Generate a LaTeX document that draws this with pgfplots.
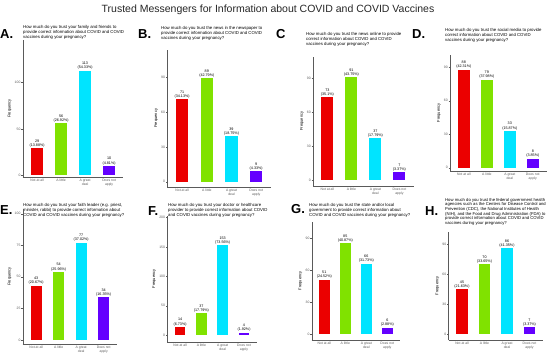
\documentclass[border=0pt]{standalone}
\usepackage{pgfplots}
\pgfplotsset{compat=1.18}
\usepackage{fontspec}
\setmainfont{Liberation Sans}
\definecolor{cR}{RGB}{235,0,0}
\definecolor{cG}{RGB}{128,226,0}
\definecolor{cC}{RGB}{0,228,255}
\definecolor{cV}{RGB}{100,0,255}
\definecolor{axc}{RGB}{90,90,90}
\pgfplotsset{
  panel/.style={
    scale only axis,
    axis x line*=bottom, axis y line*=left,
    axis line style={axc, line width=0.35pt},
    major tick style={axc, line width=0.3pt},
    major tick length=1.3pt, tick align=outside,
    xmin=-0.6, xmax=3.6,
    xtick={0,1,2,3},
    xticklabels={Not at all, A little, {A great\\deal}, {Does not\\apply}},
    xticklabel style={align=center, font=\fontsize{3.4}{3.8}\selectfont, text=axc, inner sep=0.8pt},
    yticklabel style={font=\fontsize{3.4}{3.8}\selectfont, text=axc, inner sep=0.8pt},
    /pgf/number format/assume math mode=true,
    ylabel={Frequency},
    ylabel style={font=\fontsize{4}{4.5}\selectfont, yshift=-1pt},
    ybar, bar width=0.5,
    every node near coord/.append style={align=center, font=\fontsize{3.7}{4.2}\selectfont, inner sep=0.8pt, text=black},
    clip=false,
  }
}
\newcommand{\bars}[8]{%
  \addplot[bar shift=0pt, fill=cR, draw=none, nodes near coords={#1\\(#2\%)}] coordinates {(0,#1)};
  \addplot[bar shift=0pt, fill=cG, draw=none, nodes near coords={#3\\(#4\%)}] coordinates {(1,#3)};
  \addplot[bar shift=0pt, fill=cC, draw=none, nodes near coords={#5\\(#6\%)}] coordinates {(2,#5)};
  \addplot[bar shift=0pt, fill=cV, draw=none, nodes near coords={#7\\(#8\%)}] coordinates {(3,#7)};
}
\newcommand{\qfont}{\fontsize{4.3}{4.9}\selectfont}
\newcommand{\lfont}{\fontsize{13}{13}\selectfont\bfseries}
\begin{document}
\begin{tikzpicture}[x=1pt,y=1pt]
\path[use as bounding box] (0pt,0pt) rectangle (550pt,-354pt);
\node[font=\fontsize{10.5}{12}\selectfont, text=black!85] at (268pt,-10pt) {Trusted Messengers for Information about COVID and COVID Vaccines};

% ---------- A
\node[anchor=base west, font=\lfont, inner sep=0] at (0pt,-38pt) {A.};
\node[anchor=north west, font=\qfont, align=left, inner sep=0] at (23pt,-25pt) {How much do you trust your family and friends to\\provide correct information about COVID and COVID\\vaccines during your pregnancy?};
\begin{axis}[panel, at={(22.7pt,-177pt)}, anchor=south west, width=100.8pt, height=137pt, ymin=-2, ymax=146, ytick={0,50,100}]
\bars{29}{13.88}{56}{26.92}{113}{54.33}{10}{4.81}
\end{axis}

% ---------- B
\node[anchor=base west, font=\lfont, inner sep=0] at (138pt,-38pt) {B.};
\node[anchor=north west, font=\qfont, align=left, inner sep=0] at (161pt,-26pt) {How much do you trust the news in the newspaper to\\provide correct information about COVID and COVID\\vaccines during your pregnancy?};
\begin{axis}[panel, at={(167.3pt,-186.7pt)}, anchor=south west, width=103.7pt, height=136.7pt, ymin=-4.3, ymax=113.4, ytick={0,30,60,90}]
\bars{71}{34.13}{89}{42.79}{39}{18.75}{9}{4.33}
\end{axis}

% ---------- C
\node[anchor=base west, font=\lfont, inner sep=0] at (276pt,-38pt) {C};
\node[anchor=north west, font=\qfont, align=left, inner sep=0] at (306pt,-32pt) {How much do you trust the news online to provide\\correct information about COVID and COVID\\vaccines during your pregnancy?};
\begin{axis}[panel, at={(313pt,-185.7pt)}, anchor=south west, width=100.8pt, height=129pt, ymin=-5, ymax=109, ytick={0,30,60,90}]
\bars{73}{35.1}{91}{43.75}{37}{17.79}{7}{3.37}
\end{axis}

% ---------- D
\node[anchor=base west, font=\lfont, inner sep=0] at (412pt,-38pt) {D.};
\node[anchor=north west, font=\qfont, align=left, inner sep=0] at (445pt,-28pt) {How much do you trust the social media to provide\\correct information about COVID and COVID\\vaccines during your pregnancy?};
\begin{axis}[panel, at={(450pt,-170.7pt)}, anchor=south west, width=96.6pt, height=115.7pt, ymin=-2.7, ymax=101, ytick={0,30,60,90}]
\bars{88}{42.31}{79}{37.98}{33}{15.87}{8}{3.85}
\end{axis}

% ---------- E
\node[anchor=base west, font=\lfont, inner sep=0] at (0pt,-214pt) {E.};
\node[anchor=north west, font=\qfont, align=left, inner sep=0] at (23pt,-203pt) {How much do you trust your faith leader (e.g. priest,\\minister, rabbi) to provide correct information about\\COVID and COVID vaccines during your pregnancy?};
\begin{axis}[panel, at={(22.7pt,-344pt)}, anchor=south west, width=94.5pt, height=135pt, ymin=-3.2, ymax=103.7, ytick={0,25,50,75,100}]
\bars{43}{20.67}{54}{25.96}{77}{37.02}{34}{16.35}
\end{axis}

% ---------- F
\node[anchor=base west, font=\lfont, inner sep=0] at (148pt,-215pt) {F.};
\node[anchor=north west, font=\qfont, align=left, inner sep=0] at (168pt,-203pt) {How much do you trust your doctor or healthcare\\provider to provide correct information about COVID\\and COVID vaccines during your pregnancy?};
\begin{axis}[panel, at={(167.3pt,-341.7pt)}, anchor=south west, width=89.5pt, height=125.7pt, ymin=-11.4, ymax=202.8, ytick={0,50,100,150,200}]
\bars{14}{6.73}{37}{17.79}{153}{73.56}{4}{1.92}
\end{axis}

% ---------- G
\node[anchor=base west, font=\lfont, inner sep=0] at (291pt,-213pt) {G.};
\node[anchor=north west, font=\qfont, align=left, inner sep=0] at (309pt,-203pt) {How much do you trust the state and/or local\\government to provide correct information about\\COVID and COVID vaccines during your pregnancy?};
\begin{axis}[panel, at={(311.7pt,-340pt)}, anchor=south west, width=88.2pt, height=118.3pt, ymin=-5.6, ymax=105.3, ytick={0,30,60,90}]
\bars{51}{24.52}{85}{40.87}{66}{31.73}{6}{2.88}
\end{axis}

% ---------- H
\node[anchor=base west, font=\lfont, inner sep=0] at (425pt,-215pt) {H.};
\node[anchor=north west, font=\fontsize{4.2}{4.6}\selectfont, align=left, inner sep=0] at (445pt,-198pt) {How much do you trust the federal government health\\agencies such as the Centers for Disease Control and\\Prevention (CDC), the National Institutes of Health\\(NIH), and the Food and Drug Administration (FDA) to\\provide correct information about COVID and COVID\\vaccines during your pregnancy?};
\begin{axis}[panel, at={(448.5pt,-340pt)}, anchor=south west, width=94.5pt, height=108.3pt, ymin=-5.7, ymax=102.6, ytick={0,30,60,90}]
\bars{45}{21.63}{70}{33.65}{86}{41.35}{7}{3.37}
\end{axis}
\end{tikzpicture}
\end{document}
